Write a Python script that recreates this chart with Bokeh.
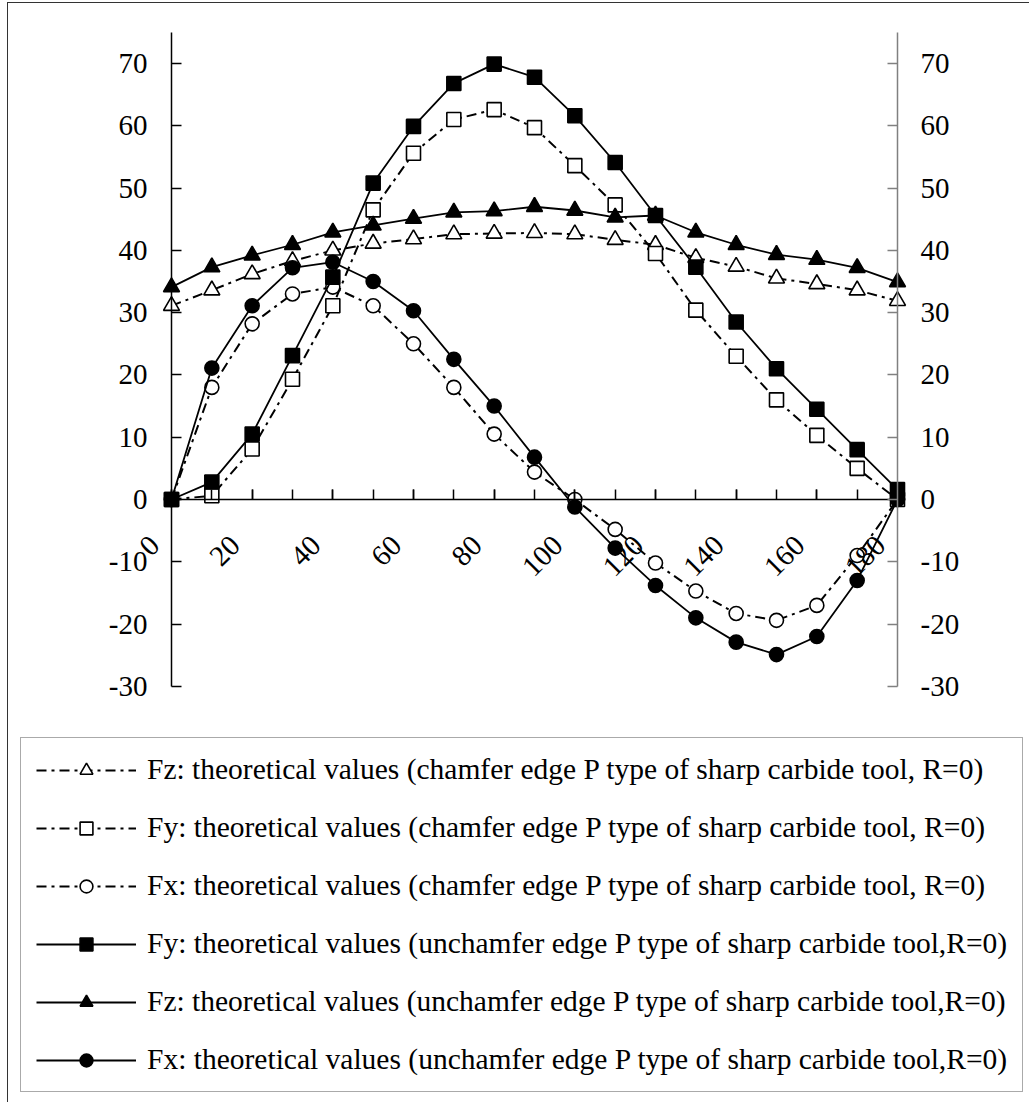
from math import pi
from bokeh.plotting import figure
from bokeh.models import Range1d, LinearAxis, FixedTicker, Legend, LegendItem
from bokeh.embed import file_html
from bokeh.resources import INLINE

# ---------------- data ----------------
angle = [0, 10, 20, 30, 40, 50, 60, 70, 80, 90, 100, 110, 120, 130, 140, 150, 160, 170, 180]

fz_chamfer = [31.1, 33.6, 36.2, 38.3, 40.0, 41.1, 41.8, 42.6, 42.7, 42.8, 42.6, 41.7, 40.9, 38.8, 37.4, 35.5, 34.6, 33.6, 31.9]
fy_chamfer = [0.0, 0.6, 8.1, 19.3, 31.1, 46.5, 55.6, 61.0, 62.6, 59.7, 53.6, 47.3, 39.5, 30.4, 23.0, 16.0, 10.3, 5.0, 0.0]
fx_chamfer = [0.0, 18.0, 28.2, 33.0, 34.1, 31.1, 25.0, 18.0, 10.5, 4.4, 0.0, -4.8, -10.2, -14.7, -18.3, -19.4, -17.0, -9.0, 0.0]
fy_unchamfer = [0.0, 2.8, 10.5, 23.1, 35.7, 50.8, 59.9, 66.8, 69.9, 67.8, 61.6, 54.1, 45.6, 37.3, 28.5, 21.0, 14.5, 8.0, 1.6]
fz_unchamfer = [34.1, 37.3, 39.2, 40.9, 42.9, 44.0, 45.1, 46.1, 46.3, 47.0, 46.4, 45.3, 45.6, 42.9, 40.9, 39.3, 38.5, 37.2, 34.9]
fx_unchamfer = [0.0, 21.1, 31.1, 37.2, 38.1, 35.0, 30.3, 22.5, 15.0, 6.8, -1.2, -7.8, -13.8, -19.0, -22.9, -24.9, -22.0, -13.0, 0.0]

x_ticks = [0, 20, 40, 60, 80, 100, 120, 140, 160, 180]
x_tick_labels = ["0", "20", "40", "60", "80", "100", "120", "140", "160", "180"]
x_minor_ticks = [0, 10, 20, 30, 40, 50, 60, 70, 80, 90, 100, 110, 120, 130, 140, 150, 160, 170, 180]
y_ticks = [-30, -20, -10, 0, 10, 20, 30, 40, 50, 60, 70]
y_tick_labels = ["-30", "-20", "-10", "0", "10", "20", "30", "40", "50", "60", "70"]

labels = [
    "Fz: theoretical values (chamfer edge P type of sharp carbide tool, R=0)",
    "Fy: theoretical values (chamfer edge P type of sharp carbide tool, R=0)",
    "Fx: theoretical values (chamfer edge P type of sharp carbide tool, R=0)",
    "Fy: theoretical values (unchamfer edge P type of sharp carbide tool,R=0)",
    "Fz: theoretical values (unchamfer edge P type of sharp carbide tool,R=0)",
    "Fx: theoretical values (unchamfer edge P type of sharp carbide tool,R=0)",
]

FONT = "Liberation Serif"
FS = "29px"

# ---------------- geometry (canvas pixels) ----------------
# x = 0 -> 163 px, x = 180 -> 889 px ; y = 0 -> 496 px, y = 70 -> 60 px
PX_X = 726.0 / 180.0
PX_Y = 436.0 / 70.0
X0, Y0 = 163.0, 496.0
W, H = 1022, 1100
BL, BR, BT, BB = 10, 6, 10, 10


def dx(px):
    return (px - X0) / PX_X


def dy(py):
    return (Y0 - py) / PX_Y


p = figure(width=W, height=H, output_backend="svg", toolbar_location=None,
           x_range=Range1d(dx(BL), dx(W - BR)), y_range=Range1d(dy(H - BB), dy(BT)),
           x_axis_location=None, y_axis_location=None,
           min_border_left=BL, min_border_right=BR, min_border_top=BT, min_border_bottom=BB)
p.outline_line_color = None
p.xgrid.visible = False
p.ygrid.visible = False
p.background_fill_color = "white"
p.border_fill_color = "white"
p.styles = {"margin-left": "7px", "margin-top": "2px",
            "border-left": "1px solid #333333", "border-top": "1px solid #333333"}


def line_axis(ax, color):
    ax.axis_line_color = color
    ax.axis_line_width = 1.5
    ax.major_tick_line_color = color
    ax.major_tick_line_width = 1.5
    ax.major_tick_in = 10
    ax.major_tick_out = 0
    ax.minor_tick_out = 0
    ax.major_label_text_color = None
    ax.major_label_text_font_size = "0px"
    ax.major_label_standoff = 0


def label_axis(ax, standoff):
    ax.axis_line_color = None
    ax.major_tick_line_color = None
    ax.minor_tick_line_color = None
    ax.major_tick_in = 0
    ax.major_tick_out = 0
    ax.minor_tick_in = 0
    ax.minor_tick_out = 0
    ax.major_label_text_font = FONT
    ax.major_label_text_font_size = FS
    ax.major_label_text_color = "black"
    ax.major_label_standoff = standoff


# axis lines and inward ticks
ly = LinearAxis(ticker=FixedTicker(ticks=y_ticks), fixed_location=0, bounds=(-30, 75))
line_axis(ly, "black")
ly.minor_tick_line_color = None
p.add_layout(ly, "left")

ry = LinearAxis(ticker=FixedTicker(ticks=y_ticks), fixed_location=180, bounds=(-30, 75))
line_axis(ry, "#808080")
ry.minor_tick_line_color = None
p.add_layout(ry, "right")

bx = LinearAxis(ticker=FixedTicker(ticks=x_ticks, minor_ticks=x_minor_ticks), fixed_location=0,
                bounds=(0, 180))
line_axis(bx, "black")
bx.minor_tick_in = 10
bx.minor_tick_line_width = 1.5
bx.minor_tick_line_color = "black"
p.add_layout(bx, "below")

# tick labels (drawn by label-only axes so that they sit where the reference has them)
y_overrides = {t: lab for t, lab in zip(y_ticks, y_tick_labels)}
SO = -40
lyl = LinearAxis(ticker=FixedTicker(ticks=y_ticks), fixed_location=dx(X0 - 24 + SO))
label_axis(lyl, SO)
lyl.major_label_overrides = y_overrides
p.add_layout(lyl, "left")

ryl = LinearAxis(ticker=FixedTicker(ticks=y_ticks), fixed_location=dx(X0 + 726 + 23 - SO))
label_axis(ryl, SO)
ryl.major_label_overrides = y_overrides
p.add_layout(ryl, "right")

SOB = -55
shift = -17 / PX_X
x_label_pos = [t + shift for t in x_ticks]
bxl = LinearAxis(ticker=FixedTicker(ticks=x_label_pos, minor_ticks=[]),
                 fixed_location=dy(Y0 + 41 - SOB))
label_axis(bxl, SOB)
bxl.major_label_orientation = pi / 4
bxl.major_label_overrides = {pos: lab for pos, lab in zip(x_label_pos, x_tick_labels)}
p.add_layout(bxl, "below")

DASH = "10 5 3 5"


def series(ys, marker, filled, dashed, label):
    if dashed:
        ln = p.line(angle, ys, line_color="black", line_width=2, line_dash=DASH)
    else:
        ln = p.line(angle, ys, line_color="black", line_width=1.8)
    size = 16 if marker == "triangle" else 14
    sc = p.scatter(angle, ys, marker=marker, size=size, line_color="black", line_width=1.6,
                   fill_color="black" if filled else "white")
    return LegendItem(label=label, renderers=[ln, sc])


it_fzc = series(fz_chamfer, "triangle", False, True, labels[0])
it_fyc = series(fy_chamfer, "square", False, True, labels[1])
it_fxc = series(fx_chamfer, "circle", False, True, labels[2])
it_fyu = series(fy_unchamfer, "square", True, False, labels[3])
it_fzu = series(fz_unchamfer, "triangle", True, False, labels[4])
it_fxu = series(fx_unchamfer, "circle", True, False, labels[5])

legend = Legend(items=[it_fzc, it_fyc, it_fxc, it_fyu, it_fzu, it_fxu],
                location=(2, 1), orientation="vertical")
legend.label_text_font = FONT
legend.label_text_font_size = "29.5px"
legend.label_text_color = "black"
legend.glyph_width = 100
legend.glyph_height = 32
legend.label_height = 32
legend.label_standoff = 11
legend.spacing = 25
legend.padding = 15
legend.margin = 0
legend.border_line_color = "#555555"
legend.border_line_width = 1.5
legend.background_fill_color = "white"
legend.background_fill_alpha = 1.0
p.add_layout(legend, "center")

open("out.html", "w").write(file_html(p, INLINE))
